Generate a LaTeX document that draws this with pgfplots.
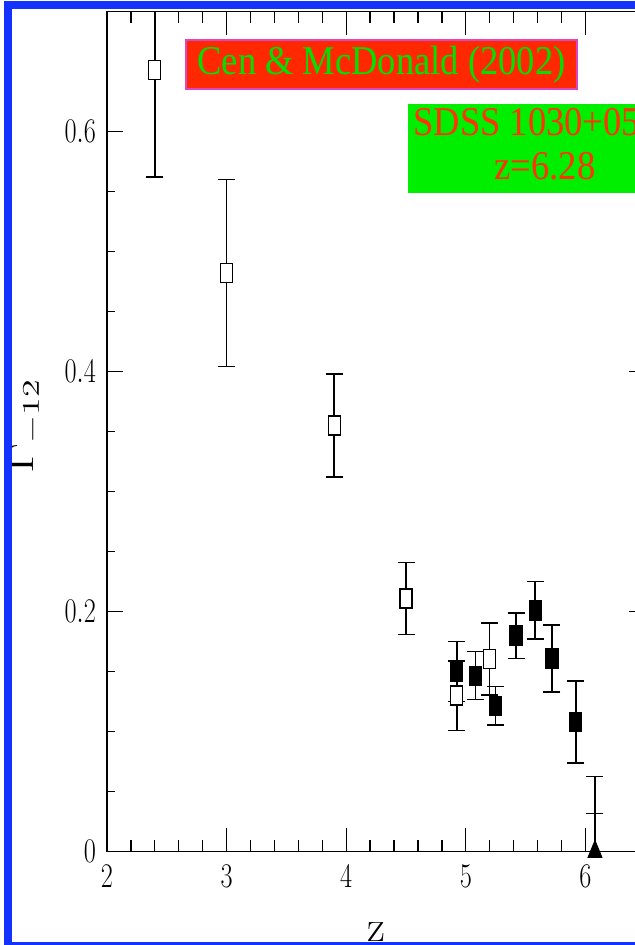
\documentclass[border=0pt]{standalone}
\usepackage{pgfplots}
\pgfplotsset{compat=1.18}
\usepackage{fontspec}
\newfontfamily\serifA{Liberation Serif}
\usepackage{graphicx}
\definecolor{frameblue}{RGB}{20,50,255}
\definecolor{boxred}{RGB}{255,40,0}
\definecolor{boxgreen}{RGB}{0,238,0}
\definecolor{textgreen}{RGB}{0,225,0}
\definecolor{textred}{RGB}{255,50,0}
\definecolor{boxpink}{RGB}{220,70,190}

\pgfplotstableread{
x y e
2.40 0.651 0.089
3.00 0.482 0.078
3.90 0.355 0.043
4.50 0.211 0.030
4.925 0.130 0.029
5.20 0.1605 0.030
}\opendata

\pgfplotstableread{
x y e
4.925 0.150 0.025
5.08 0.1466 0.020
5.25 0.1216 0.016
5.42 0.180 0.019
5.58 0.201 0.024
5.72 0.161 0.028
5.92 0.108 0.034
}\filleddata

\pgfplotsset{
  myframe/.style={
    at={(53.5pt,46.65pt)}, anchor=south west,
    scale only axis, width=269.1pt, height=420.2pt,
    xmin=2, xmax=6.5, ymin=0, ymax=0.7,
    tick align=inside,
    axis line style={line width=0.65pt, black},
    tick style={black, line width=0.65pt},
  }
}

\begin{document}
\begin{tikzpicture}
\useasboundingbox (0,0) rectangle (317.5pt,472.5pt);
% x ticks axis
\begin{axis}[myframe,
  xtick={2,3,4,5,6}, minor x tick num=4, ytick=\empty,
  major tick length=12pt, minor tick length=6pt,
  xticklabel={\scalebox{0.76}[1]{$\pgfmathprintnumber{\tick}$}},
  xticklabel style={font=\fontsize{17.5}{17.5}\selectfont, yshift=-3.4pt},
  xlabel={z},
  xlabel style={font=\fontsize{22}{22}\selectfont, at={(axis description cs:0.5,0)}, anchor=north, yshift=-32pt},
]
\addplot[draw=none] coordinates {(2,0)};
\end{axis}
% data + y ticks axis
\begin{axis}[myframe,
  xtick=\empty,
  ytick={0,0.2,0.4,0.6}, minor y tick num=3,
  major tick length=8pt, minor tick length=4pt,
  yticklabel={\scalebox{0.76}[1]{$\pgfmathprintnumber{\tick}$}},
  yticklabel style={font=\fontsize{17.5}{17.5}\selectfont, xshift=-2pt},
  ylabel={\scalebox{1.5}[1]{$\Gamma_{-12}$}},
  ylabel style={font=\fontsize{18}{18}\selectfont, at={(axis description cs:-0.1514,0.5066)}, anchor=center},
]
\addplot[only marks, mark=square*, mark size=3pt,
  mark options={fill=white, draw=black, line width=0.65pt, yscale=1.58},
  error bars/.cd, y dir=both, y explicit,
  error bar style={line width=0.75pt, black},
  error mark options={rotate=90, mark size=4.25pt, line width=0.75pt, black}]
  table[x=x, y=y, y error=e] {\opendata};
\addplot[only marks, mark=square*, mark size=3pt,
  mark options={fill=black, draw=black, line width=0.65pt, yscale=1.58},
  error bars/.cd, y dir=both, y explicit,
  error bar style={line width=0.75pt, black},
  error mark options={rotate=90, mark size=4.25pt, line width=0.75pt, black}]
  table[x=x, y=y, y error=e] {\filleddata};
\addplot[only marks, mark=triangle*, mark size=4.04pt,
  mark options={fill=black, draw=black, yscale=1.4},
  error bars/.cd, y dir=plus, y explicit,
  error bar style={line width=0.75pt, black},
  error mark options={rotate=90, mark size=4.25pt, line width=0.75pt, black}]
  coordinates {(6.08,0) +- (0,0.0625)};
\addplot[only marks, mark=-, mark size=4.25pt, mark options={line width=0.75pt, black}]
  coordinates {(6.08,0.032)};
\end{axis}
% annotation boxes
\node[fill=boxred, draw=boxpink, line width=1pt, minimum width=195.5pt, minimum height=24.5pt,
  inner sep=0pt, text=textgreen, font=\serifA\fontsize{18.25}{18.25}\selectfont]
  at (190.75pt,440.25pt) {\scalebox{1}[1.12]{Cen \& McDonald (2002)}};
\node[fill=boxgreen, minimum width=137pt, minimum height=44.5pt, inner sep=0pt,
  text=textred, font=\serifA\fontsize{18.25}{19.6}\selectfont]
  at (272.5pt,398.25pt) {\scalebox{1}[1.12]{\begin{tabular}{@{}c@{}}SDSS 1030+0524\\z=6.28\end{tabular}}};
% blue frame
\draw[frameblue, line width=4pt] (4pt,-0.5pt) rectangle (400pt,470pt);
\end{tikzpicture}
\end{document}
